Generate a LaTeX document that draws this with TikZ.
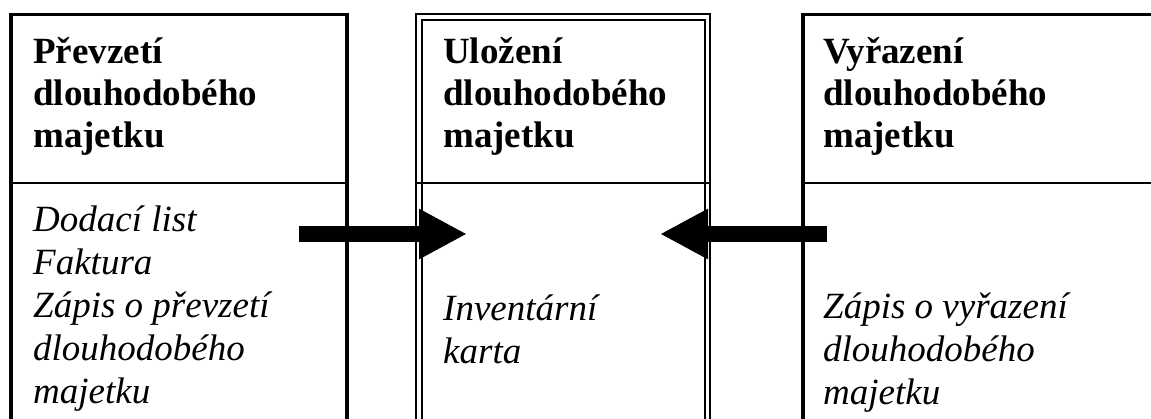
\documentclass[tikz,border=0pt]{standalone}
\usepackage{fontspec}
\setmainfont{Liberation Serif}
\usetikzlibrary{arrows.meta}
\begin{document}
\begin{tikzpicture}[x=1pt,y=-1pt,
  frame/.style={draw=black, line width=3.5pt},
  dframe/.style={draw=black, line width=2pt},
  divider/.style={draw=black, line width=1.2pt},
  head/.style={anchor=base west, align=left, inner sep=0pt, font=\fontsize{37}{42}\selectfont\bfseries},
  body/.style={anchor=base west, align=left, inner sep=0pt, font=\fontsize{37}{43}\selectfont\itshape},
  flow/.style={line width=16pt, -{Triangle[length=48pt,width=47pt]}}]
\useasboundingbox (0,0) rectangle (1151,418);
\begin{scope}
\clip (0,0) rectangle (1151,418);
% box 1
\draw[frame] (11,440) -- (11,14.5) -- (347,14.5) -- (347,440);
\draw[divider] (11,183) -- (347,183);
% box 2 (double frame)
\draw[dframe] (416,440) -- (416,13.5) -- (709.5,13.5) -- (709.5,440);
\draw[dframe] (422,440) -- (422,19.5) -- (705,19.5) -- (705,440);
\draw[divider] (416,183) -- (709.5,183);
% box 3
\draw[frame] (803,440) -- (803,14.5) -- (1160,14.5);
\draw[divider] (803,183) -- (1160,183);
\end{scope}
% texts (anchored at the baseline of the last line)
\node[head] (h1) at (33,147) {Převzetí\\dlouhodobého\\majetku};
\node[head] (h2) at (443,147) {Uložení\\dlouhodobého\\majetku};
\node[head] (h3) at (823,147) {Vyřazení\\dlouhodobého\\majetku};
\node[body] (b1) at (33,403) {Dodací list\\Faktura\\Zápis o převzetí\\dlouhodobého\\majetku};
\node[body] (b2) at (443,363) {Inventární\\karta};
\node[body] (b3) at (823,404) {Zápis o vyřazení\\dlouhodobého\\majetku};
% arrows
\coordinate (a1s) at (299,234);
\coordinate (a1e) at (467,234);
\coordinate (a2s) at (827,234);
\coordinate (a2e) at (660,234);
\draw[flow] (a1s) -- (a1e);
\draw[flow] (a2s) -- (a2e);
\end{tikzpicture}
\end{document}
